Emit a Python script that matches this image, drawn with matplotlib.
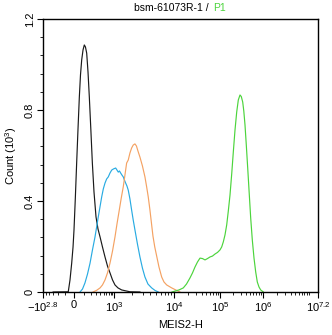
"""
Flow cytometry histogram overlay: bsm-61073R-1 / P1 (MEIS2-H)
"""
import numpy as np
import matplotlib
matplotlib.use('Agg')
import matplotlib.pyplot as plt
from matplotlib.ticker import FixedLocator, MultipleLocator

plt.rcParams['font.family'] = ['Liberation Sans', 'DejaVu Sans']
plt.rcParams['mathtext.default'] = 'regular'

# ---- data (MEIS2-H value, count in 10^3) ----
black_x = [-300, -61, -42, -24, -10, 0, 13, 26, 39, 53, 65, 78, 93, 108, 122, 138, 156,
           175, 199, 224, 254, 295, 340, 393, 464, 551, 651, 768, 907, 1039, 1166, 1344,
           1848, 2713]
black_y = [0, 0.001, 0.053, 0.127, 0.198, 0.273, 0.413, 0.567, 0.712, 0.857, 0.954, 1.02,
           1.064, 1.086, 1.077, 1.05, 0.967, 0.857, 0.712, 0.567, 0.440, 0.330, 0.277,
           0.242, 0.198, 0.154, 0.114, 0.084, 0.053, 0.031, 0.018, 0.009, 0.001, 0]

blue_x = [60, 87, 116, 149, 186, 226, 274, 347, 440, 491, 551, 616, 686, 768, 860, 969,
          1067, 1122, 1180, 1235, 1293, 1359, 1429, 1496, 1567, 1647, 1731, 1848, 1972,
          2097, 2239, 2465, 2713, 2985, 3286, 3687, 4250, 4825, 5474]
blue_y = [0, 0.013, 0.040, 0.079, 0.127, 0.185, 0.242, 0.330, 0.418, 0.453, 0.479, 0.497,
          0.506, 0.523, 0.536, 0.541, 0.545, 0.536, 0.527, 0.532, 0.523, 0.514, 0.506,
          0.492, 0.479, 0.466, 0.448, 0.409, 0.360, 0.316, 0.273, 0.211, 0.154, 0.105,
          0.066, 0.035, 0.018, 0.007, 0]

orange_x = [236, 306, 393, 464, 551, 651, 768, 907, 1039, 1122, 1226, 1323, 1429, 1525,
            1628, 1731, 1848, 1972, 2097, 2239, 2371, 2512, 2713, 2985, 3286, 3508, 3729,
            3981, 4250, 4467, 4786, 5149, 5623, 6237, 6813, 7556, 9157, 12217, 13505]
orange_y = [0, 0.007, 0.018, 0.031, 0.053, 0.084, 0.127, 0.180, 0.242, 0.299, 0.360,
            0.413, 0.462, 0.514, 0.567, 0.580, 0.611, 0.633, 0.646, 0.651, 0.642, 0.620,
            0.593, 0.554, 0.506, 0.462, 0.418, 0.360, 0.295, 0.246, 0.198, 0.158, 0.110,
            0.066, 0.044, 0.031, 0.018, 0.004, 0]

green_x = [9261, 10513, 12846, 15930, 18694, 22280, 25250, 28615, 32430, 36750, 41650,
           47200, 53500, 60630, 68710, 77860, 88250, 100000, 109500, 119300, 130700,
           143200, 156000, 170800, 187200, 203900, 223300, 244600, 266500, 291900,
           312900, 337300, 357800, 381500, 408900, 440900, 477600, 517600, 563900,
           617700, 676500, 737000, 807200, 884000, 1018000]
green_y = [0, 0.004, 0.009, 0.018, 0.035, 0.062, 0.084, 0.110, 0.132, 0.149, 0.147, 0.141,
           0.147, 0.154, 0.158, 0.167, 0.174, 0.185, 0.198, 0.220, 0.251, 0.295, 0.356,
           0.426, 0.519, 0.615, 0.712, 0.791, 0.844, 0.866, 0.859, 0.835, 0.795, 0.734,
           0.646, 0.545, 0.435, 0.325, 0.229, 0.149, 0.088, 0.044, 0.022, 0.009, 0]

xtick_vals = [-10 ** 2.8, 0, 1e3, 1e4, 1e5, 1e6, 10 ** 7.2]
xtick_labels = [r'$-10^{2.8}$', '0', r'$10^3$', r'$10^4$', r'$10^5$', r'$10^6$', r'$10^{7.2}$']

# ---- biexponential-like axis (asinh, then piecewise to match the instrument) ----
C = 150.0
anchors = np.array([-1e4, -10 ** 2.8, 0, 1e3, 1e4, 1e5, 1e6, 10 ** 7.2, 1e9])
anchor_pos = np.array([3.2, 43, 74, 114, 174, 220, 263, 318, 400.8])
anchor_u = np.arcsinh(anchors / C) / np.log(10)


def fwd(x):
    u = np.arcsinh(np.asarray(x, dtype=float) / C) / np.log(10)
    return np.interp(u, anchor_u, anchor_pos)


def inv(p):
    u = np.interp(np.asarray(p, dtype=float), anchor_pos, anchor_u)
    return C * np.sinh(u * np.log(10))


fig = plt.figure(figsize=(3.32, 3.35), dpi=100)
ax = fig.add_axes([43 / 332, 43 / 335, 275 / 332, 273 / 335])
ax.set_xscale('function', functions=(fwd, inv))

ax.plot(black_x, black_y, color='#1a1a1a', lw=0.85)
ax.plot(blue_x, blue_y, color='#29abe2', lw=0.85)
ax.plot(orange_x, orange_y, color='#f4a263', lw=0.85)
ax.plot(green_x, green_y, color='#4cd43c', lw=0.85)

ax.set_xlim(-10 ** 2.8, 10 ** 7.2)
ax.set_ylim(0, 1.2)

ax.xaxis.set_major_locator(FixedLocator(xtick_vals))
ax.set_xticklabels(xtick_labels, fontsize=8)
minors = [-500, -400, -300, -200, -100, 100, 200, 300, 400, 500, 600, 700, 800, 900]
for d in range(3, 7):
    minors += [m * 10 ** d for m in range(2, 10)]
minors += [1e7]
ax.xaxis.set_minor_locator(FixedLocator(minors))

ax.yaxis.set_major_locator(FixedLocator([0, 0.4, 0.8, 1.2]))
ax.set_yticklabels(['0', '0.4', '0.8', '1.2'], fontsize=8, rotation=90, va='center')
ax.yaxis.set_minor_locator(MultipleLocator(0.08))

ax.tick_params(which='major', length=4, width=0.8, pad=2)
ax.tick_params(which='minor', length=2, width=0.6)
for s in ax.spines.values():
    s.set_linewidth(1.0)

ax.set_xlabel('MEIS2-H', fontsize=8, labelpad=4)
ax.set_ylabel(r'Count ($10^3$)', fontsize=8, labelpad=4)

fig.text(209 / 332, 0.976, 'bsm-61073R-1 /', ha='right', va='center', fontsize=7.5)
fig.text(213 / 332, 0.976, 'P1', ha='left', va='center', fontsize=7.5, color='#4cd43c')

fig.savefig('out.png', dpi=100)
